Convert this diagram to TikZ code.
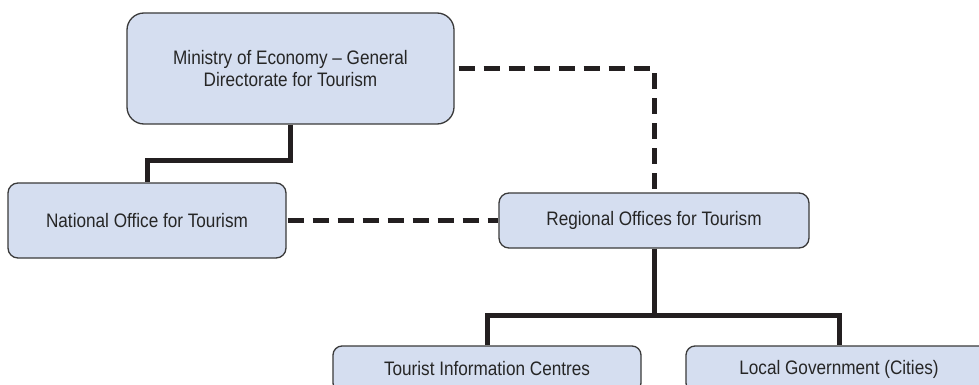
\documentclass[tikz,border=0pt]{standalone}
\usepackage{fontspec}
\setmainfont{Liberation Sans}[FakeStretch=0.88]
\definecolor{boxfill}{HTML}{D5DEF0}
\definecolor{boxline}{HTML}{3A3A3A}
\definecolor{ink}{HTML}{231F20}
\definecolor{txt}{HTML}{262626}
\tikzset{
  orgbox/.style={draw=boxline, line width=1.3pt, fill=boxfill, rounded corners=#1,
    inner sep=0pt, align=center, text=txt,
    font=\fontsize{19.5}{22}\selectfont},
  conn/.style={draw=ink, line width=5pt, line join=miter},
  dconn/.style={draw=ink, line width=5pt, dash pattern=on 16pt off 9pt},
}
\begin{document}
\begin{tikzpicture}[x=1pt,y=-1pt]
\clip (0,0) rectangle (979,385);
\fill[white] (0,0) rectangle (979,385);
% nodes
\node[orgbox=17pt, minimum width=327pt, minimum height=111pt] (min) at (290.5,68.5)
  {Ministry of Economy -- General\\Directorate for Tourism};
\node[orgbox=10pt, minimum width=278pt, minimum height=75pt] (nat) at (147,220.5)
  {National Office for Tourism};
\node[orgbox=10pt, minimum width=310pt, minimum height=55pt] (reg) at (654,220.5)
  {Regional Offices for Tourism};
\node[orgbox=9pt, minimum width=308pt, minimum height=46pt] (tic) at (487,369)
  {Tourist Information Centres};
\node[orgbox=9pt, minimum width=306pt, minimum height=46pt] (lg) at (839,369)
  {Local Government (Cities)};
\coordinate (bus) at (0,315.5);
\coordinate (mbus) at (0,160);
% connectors
\draw[conn] (min.south) -- (min.south |- mbus) -- (nat.north |- mbus) -- (nat.north);
\draw[dconn] ([xshift=4pt]min.east) -| (reg.north);
\draw[dconn] ([xshift=1pt]nat.east) -- (reg.west);
\draw[conn] (reg.south) -- (reg.south |- bus);
\draw[conn] (tic.north) -- (tic.north |- bus) -- (lg.north |- bus) -- (lg.north);
\end{tikzpicture}
\end{document}
